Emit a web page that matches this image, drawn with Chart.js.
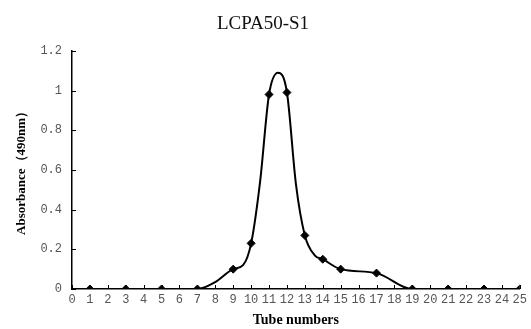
<!DOCTYPE html>
<html>
<head>
<meta charset="utf-8">
<script src="https://cdn.jsdelivr.net/npm/chart.js@4"></script>
<style>
html,body{margin:0;padding:0;background:#fff;}
#wrap{width:531px;height:329px;}
</style>
</head>
<body>
<div id="wrap"><canvas id="c" width="531" height="329"></canvas></div>
<script>
// Smooth curve (tube number, absorbance)
const curveX = [1, 3, 5, 7, 8, 9, 9.55, 10, 10.5, 11, 11.5, 12, 12.5, 13, 13.55, 14, 15, 17, 19, 21, 23, 25];
const curveY = [0, 0, 0, 0, 0.035, 0.10, 0.12, 0.23, 0.54, 0.98, 1.09, 0.99, 0.53, 0.27, 0.17, 0.15, 0.10, 0.08, 0, 0, 0, 0];
// Marked sample points
const markerX = [1, 3, 5, 7, 9, 10, 11, 12, 13, 14, 15, 17, 19, 21, 23, 25];
const markerY = [0, 0, 0, 0, 0.10, 0.23, 0.98, 0.99, 0.27, 0.15, 0.10, 0.08, 0, 0, 0, 0];
const xTickLabels = ['0','1','2','3','4','5','6','7','8','9','10','11','12','13','14','15','16','17','18','19','20','21','22','23','24','25'];
const yTickLabels = ['0','0.2','0.4','0.6','0.8','1','1.2'];
const chartTitle = 'LCPA50-S1';
const xTitle = 'Tube numbers';
const yTitle = 'Absorbance（490nm）';

const curvePts = curveX.map((x, i) => ({x: x, y: curveY[i]}));
const markerPts = markerX.map((x, i) => ({x: x, y: markerY[i]}));

const inwardTicks = {
  id: 'inwardTicks',
  afterDraw(chart) {
    const {ctx, scales: {x, y}, chartArea: a} = chart;
    ctx.save();
    ctx.strokeStyle = '#000';
    ctx.lineWidth = 1;
    x.ticks.forEach(t => {
      const px = Math.round(x.getPixelForValue(t.value)) + 0.5;
      ctx.beginPath(); ctx.moveTo(px, a.bottom); ctx.lineTo(px, a.bottom - 4); ctx.stroke();
    });
    y.ticks.forEach(t => {
      const py = Math.round(y.getPixelForValue(t.value)) + 0.5;
      ctx.beginPath(); ctx.moveTo(a.left, py); ctx.lineTo(a.left + 4, py); ctx.stroke();
    });
    ctx.restore();
  }
};

new Chart(document.getElementById('c'), {
  type: 'scatter',
  data: {
    datasets: [
      {
        data: markerPts,
        showLine: false,
        pointStyle: 'rectRot',
        pointRadius: 4,
        pointBackgroundColor: '#000',
        pointBorderColor: '#000',
        pointBorderWidth: 1
      },
      {
        data: curvePts,
        showLine: true,
        borderColor: '#000',
        borderWidth: 2,
        pointRadius: 0,
        cubicInterpolationMode: 'monotone',
        fill: false
      }
    ]
  },
  options: {
    responsive: false,
    animation: false,
    events: [],
    layout: {padding: {left: 0, right: 5, top: 0, bottom: 0}},
    plugins: {
      legend: {display: false},
      tooltip: {enabled: false},
      title: {
        display: true,
        text: chartTitle,
        color: '#111',
        font: {family: 'Liberation Serif', size: 19, weight: 'normal'},
        padding: {top: 13, bottom: 15}
      }
    },
    scales: {
      x: {
        type: 'linear',
        min: 0, max: 25,
        grid: {display: false, drawTicks: false},
        border: {display: true, color: '#000', width: 1.5},
        ticks: {
          stepSize: 1,
          autoSkip: false,
          maxRotation: 0,
          padding: 4,
          color: '#555',
          font: {family: 'Liberation Mono', size: 12},
          callback: (v) => xTickLabels[Math.round(v)] ?? String(v)
        },
        title: {
          display: true,
          text: xTitle,
          color: '#000',
          font: {family: 'Liberation Serif', size: 14, weight: 'bold'},
          padding: {top: 0, bottom: 0}
        },
        afterFit(s) { s.height = 40; }
      },
      y: {
        type: 'linear',
        min: 0, max: 1.2,
        grid: {display: false, drawTicks: false},
        border: {display: true, color: '#000', width: 1.5},
        ticks: {
          stepSize: 0.2,
          padding: 10,
          color: '#555',
          font: {family: 'Liberation Mono', size: 12},
          callback: (v) => yTickLabels[Math.round(v / 0.2)] ?? String(v)
        },
        title: {
          display: true,
          text: yTitle,
          color: '#000',
          font: {family: 'Liberation Serif', size: 13, weight: 'bold'},
          padding: {top: 14, bottom: 0}
        },
        afterFit(s) { s.width = 72; }
      }
    }
  },
  plugins: [inwardTicks]
});
</script>
</body>
</html>
